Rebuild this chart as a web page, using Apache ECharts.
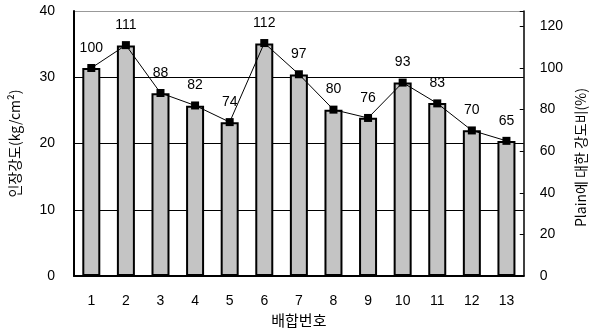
<!DOCTYPE html>
<html>
<head>
<meta charset="utf-8">
<script src="https://cdn.jsdelivr.net/npm/echarts@6/dist/echarts.min.js"></script>
<style>
  html, body { margin: 0; padding: 0; background: #fff; }
  #chart { width: 596px; height: 333px; }
</style>
</head>
<body>
<div id="chart"></div>
<script>
// Mix numbers 1..13
const categories = ['1', '2', '3', '4', '5', '6', '7', '8', '9', '10', '11', '12', '13'];
// Tensile strength (kg/cm²), left axis
const strength = [31.4, 34.8, 27.6, 25.7, 23.2, 35.1, 30.4, 25.1, 23.9, 29.2, 26.1, 22.0, 20.4];
// Strength ratio relative to Plain (%), right axis
const ratio = [100, 111, 88, 82, 74, 112, 97, 80, 76, 93, 83, 70, 65];
const leftTicks = { min: 0, max: 40, interval: 10 };
const rightTicks = { min: 0, max: 127.4, interval: 20 };

const latin = '"Liberation Sans", Arial, sans-serif';
const korean = '"Noto Sans CJK KR", "Liberation Sans", sans-serif';

const chart = echarts.init(document.getElementById('chart'));
chart.setOption({
  animation: false,
  grid: { left: 69, right: 64, top: 11, bottom: 56 },
  xAxis: {
    type: 'category',
    data: categories,
    boundaryGap: true,
    name: '배합번호',
    nameLocation: 'middle',
    nameGap: 36,
    nameTextStyle: { fontFamily: korean, fontSize: 15, color: '#000' },
    axisLine: { lineStyle: { color: '#000', width: 2 } },
    axisTick: { inside: true, length: 4, lineStyle: { color: '#000' } },
    axisLabel: { margin: 18, fontFamily: latin, fontSize: 14, color: '#000' }
  },
  yAxis: [
    {
      type: 'value',
      min: leftTicks.min, max: leftTicks.max, interval: leftTicks.interval,
      name: '인장강도(kg/cm²)',
      nameLocation: 'middle',
      nameGap: 52,
      nameTextStyle: { fontFamily: korean, fontSize: 14, color: '#000' },
      axisLine: { show: true, lineStyle: { color: '#000', width: 2 } },
      axisTick: { show: false },
      axisLabel: { margin: 19, fontFamily: latin, fontSize: 14, color: '#000' },
      splitLine: { show: true, lineStyle: { color: ['#000', '#000', '#000', '#000', '#999'], width: 1 } }
    },
    {
      type: 'value',
      position: 'right',
      min: rightTicks.min, max: rightTicks.max, interval: rightTicks.interval,
      name: 'Plain에 대한 강도비(%)',
      nameLocation: 'middle',
      nameGap: 50,
      nameTextStyle: { fontFamily: korean, fontSize: 14, color: '#000', padding: [0, 28, 0, 0] },
      axisLine: { show: true, lineStyle: { color: '#000', width: 1.5 } },
      axisTick: { show: true, inside: true, length: 4, lineStyle: { color: '#000' } },
      axisLabel: {
        margin: 16, fontFamily: latin, fontSize: 14, color: '#000',
        formatter: v => (v % rightTicks.interval === 0 ? String(v) : '')
      },
      splitLine: { show: false }
    }
  ],
  series: [
    {
      type: 'bar',
      yAxisIndex: 0,
      data: strength,
      barWidth: 18,
      itemStyle: { color: '#c4c4c4', borderColor: '#000', borderWidth: 2 },
      z: 2
    },
    {
      type: 'line',
      yAxisIndex: 1,
      data: ratio,
      symbol: 'rect',
      symbolSize: 8,
      lineStyle: { color: '#000', width: 1 },
      itemStyle: { color: '#000' },
      label: {
        show: true, position: 'top', distance: 9,
        fontFamily: latin, fontSize: 14, color: '#000'
      },
      z: 3
    }
  ]
});
</script>
</body>
</html>
